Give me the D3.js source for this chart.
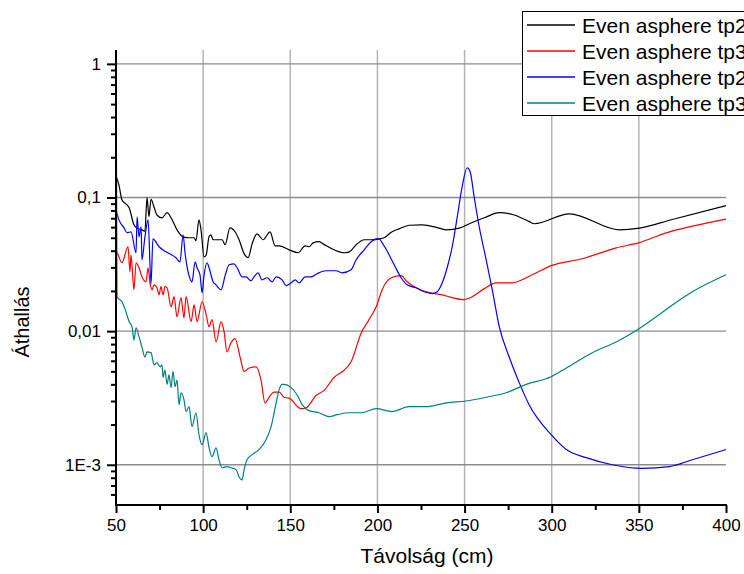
<!DOCTYPE html>
<html>
<head>
<meta charset="utf-8">
<script src="https://cdn.jsdelivr.net/npm/d3@7"></script>
<style>
body { margin: 0; background: #fff; }
text { font-family: "Liberation Sans", Arial, sans-serif; fill: #000; }
</style>
</head>
<body>
<svg width="744" height="574"></svg>
<script>
// distance (cm), crosstalk value
const tp2a = [[50,0.145],[51.7,0.124],[53.4,0.096],[56.3,0.088],[57.5,0.084],[60.3,0.0625],[62.1,0.059],[64.9,0.0573],[66.6,0.056],[67.8,0.1],[68.9,0.072],[70.1,0.097],[71.8,0.085],[73.5,0.074],[76.4,0.0705],[79.3,0.077],[81.6,0.0705],[85,0.0573],[88.5,0.0508],[91.9,0.05],[94.8,0.05],[95.9,0.0475],[97.6,0.068],[98.8,0.057],[100.5,0.036],[101.7,0.037],[103.4,0.051],[104.5,0.0526],[105.7,0.0483],[108,0.0483],[110.9,0.0483],[112.6,0.0443],[115.4,0.0593],[118.3,0.0554],[120.6,0.0483],[123.5,0.038],[125.8,0.0354],[128.1,0.045],[130.9,0.0535],[134.4,0.0483],[138.4,0.0554],[141.3,0.0435],[143.6,0.0435],[149.3,0.0406],[154.5,0.0386],[158.5,0.0435],[160.8,0.0428],[163.1,0.0458],[166.5,0.0467],[168.8,0.045],[175.1,0.0406],[180.9,0.0386],[183.8,0.0392],[188.4,0.045],[192.4,0.0483],[197,0.0483],[201,0.049],[203.9,0.05],[208.4,0.0554],[212.5,0.0583],[218.2,0.062],[225.7,0.0625],[235.4,0.059],[239.5,0.0573],[246.9,0.059],[252.7,0.0636],[261.3,0.0705],[269.9,0.077],[278.5,0.074],[287.1,0.066],[290,0.0636],[310.1,0.0755],[338.8,0.0573],[350.3,0.059],[369.2,0.0685],[400,0.087]];

const tp3a = [[50,0.0392],[50.6,0.0386],[53.4,0.0325],[56.9,0.0428],[58,0.0278],[58.6,0.0373],[60.3,0.0204],[61.5,0.0325],[63.2,0.0298],[64.9,0.0255],[67.2,0.0234],[68.4,0.0298],[69.5,0.023],[70.7,0.0204],[71.8,0.0222],[73.5,0.0211],[74.7,0.0187],[75.8,0.0215],[77,0.0187],[78.1,0.0215],[79.3,0.0211],[81.6,0.0152],[83.3,0.0181],[85,0.0128],[87.3,0.0178],[89,0.0126],[90.2,0.0181],[93.1,0.0118],[94.8,0.0157],[96.5,0.0118],[99.4,0.0166],[101.7,0.0133],[103.4,0.0108],[105.1,0.0122],[107.4,0.0083],[110.3,0.0118],[112,0.0099],[113.7,0.007],[116,0.0082],[118.3,0.0088],[121.2,0.0064],[123.5,0.005],[126.4,0.0053],[130.4,0.0054],[133.2,0.0043],[135.5,0.0029],[137.8,0.0032],[140.7,0.0035],[143.6,0.0035],[146.4,0.0032],[149.3,0.00315],[156.2,0.00263],[159.1,0.00267],[164.8,0.0033],[169.4,0.0036],[175.1,0.0045],[180.9,0.0051],[184.9,0.0059],[190.7,0.0097],[195.2,0.0122],[199.3,0.0152],[202.7,0.0204],[207.9,0.0251],[213.6,0.026],[217.1,0.0234],[222.2,0.0211],[229.7,0.0194],[237.2,0.0187],[242.9,0.0178],[249.2,0.0172],[254.4,0.0181],[261.3,0.0208],[268.2,0.023],[277.3,0.023],[288.8,0.0264],[299.7,0.0309],[317.5,0.0348],[337,0.042],[350.3,0.046],[365.7,0.0544],[380.7,0.061],[400,0.069]];

const tp2b = [[50,0.081],[51.7,0.068],[54.6,0.0593],[56.3,0.0545],[58.6,0.0554],[61.5,0.0386],[62.1,0.0717],[63.2,0.0508],[64.4,0.0604],[64.9,0.0342],[66.6,0.0508],[68.4,0.068],[70.1,0.0226],[71.2,0.0491],[74.7,0.0428],[78.7,0.0392],[84.4,0.0354],[86.7,0.033],[88.5,0.0526],[89.6,0.0386],[91.9,0.026],[93.6,0.0234],[95.4,0.033],[96.5,0.0298],[98.2,0.0264],[99.4,0.0194],[100.5,0.026],[102.2,0.0325],[103.4,0.0298],[105.7,0.0234],[107.4,0.0222],[110.3,0.0204],[112.6,0.026],[114.9,0.0314],[117.7,0.0319],[119.5,0.0298],[122.3,0.0255],[124.6,0.0255],[127.5,0.0238],[129.2,0.0255],[131.5,0.0273],[133.8,0.0242],[136.7,0.0251],[139.6,0.0234],[141.9,0.0255],[145.3,0.0242],[147.6,0.0219],[150.5,0.023],[152.8,0.0242],[155.1,0.023],[158.5,0.0255],[162,0.0255],[165.4,0.0269],[170.6,0.0283],[176.3,0.0283],[179.7,0.0273],[184.9,0.0288],[187.8,0.0342],[192.4,0.0406],[196.4,0.0467],[199.8,0.0491],[201,0.0491],[202.7,0.0458],[205,0.041],[209.6,0.0314],[213.6,0.0251],[217.1,0.0222],[222.2,0.0211],[226.8,0.0197],[231.4,0.0191],[234.3,0.0197],[237.2,0.023],[240,0.0298],[242.9,0.0428],[245.8,0.0717],[248.6,0.12],[251.5,0.167],[253.2,0.156],[255.5,0.101],[258.4,0.0604],[262.4,0.0342],[265.9,0.0204],[269.9,0.0108],[275.6,0.0064],[281.4,0.0041],[287.1,0.0028],[299.7,0.00168],[308.4,0.0013],[319.8,0.00113],[334.7,0.001],[352,0.00094],[367.5,0.00097],[380.7,0.00109],[400,0.0013]];

const tp3b = [[50,1.15],[50.6,0.0181],[53.4,0.0166],[55.7,0.014],[57.5,0.0118],[59.2,0.0108],[60.3,0.0086],[61.5,0.0106],[63.2,0.0091],[64.9,0.0076],[66.6,0.0064],[67.8,0.007],[70.1,0.0069],[71.8,0.0056],[73.5,0.0058],[75.3,0.0054],[76.4,0.0056],[77,0.0045],[78.1,0.0051],[79.3,0.004],[80.4,0.0047],[81.6,0.00378],[82.7,0.005],[83.9,0.00384],[85,0.0043],[86.2,0.00282],[87.3,0.00346],[89,0.00307],[90.2,0.0025],[91.9,0.00272],[93.6,0.00193],[95.9,0.00245],[97.6,0.00168],[99.4,0.00141],[101.7,0.00174],[103.4,0.00134],[105.1,0.00115],[107.4,0.00134],[109.1,0.00109],[110.9,0.00095],[113.7,0.00097],[116,0.00095],[118.9,0.00092],[120.6,0.00081],[122.3,0.00077],[123.5,0.00092],[125.2,0.00109],[128.1,0.00119],[132.1,0.0013],[136.1,0.00154],[139,0.00193],[141.9,0.00291],[143.6,0.00365],[145.3,0.004],[146.4,0.004],[150.5,0.00378],[153.9,0.00334],[156.8,0.00282],[160.8,0.00254],[166.5,0.00245],[172.3,0.00229],[176.9,0.00237],[183.8,0.00245],[190.7,0.00245],[199.3,0.00263],[208.4,0.0025],[218.2,0.00272],[227.9,0.00272],[239.5,0.00291],[250.9,0.003],[262.4,0.0032],[273.9,0.00346],[285.4,0.004],[299.7,0.00456],[308.4,0.0053],[323.3,0.0069],[337,0.0083],[348.5,0.0101],[360,0.0128],[369.2,0.0157],[380.7,0.0197],[400,0.0264]];

const seriesNames = ["Even asphere tp2", "Even asphere tp3", "Even asphere tp2", "Even asphere tp3"];
const seriesColors = ["#000000", "#ff0000", "#0000ff", "#008080"];
const xTicks = [50, 100, 150, 200, 250, 300, 350, 400];
const xMinor = [75, 125, 175, 225, 275, 325, 375];
const yTicks = [1, 0.1, 0.01, 0.001];
const yTickLabels = ["1", "0,1", "0,01", "1E-3"];

const svg = d3.select("svg");
const x = d3.scaleLinear().domain([50, 400]).range([116, 726]);
const y = d3.scaleLog().domain([5e-4, 1.27]).range([505, 50]);

// minor log ticks
const yMinor = [];
[1e-4, 1e-3, 1e-2, 1e-1, 1].forEach(function(p) {
  for (let k = 2; k <= 9; k++) {
    const v = p * k;
    if (v > 5e-4 && v < 1.27) yMinor.push(v);
  }
});

// grid
svg.append("g").selectAll("line").data([100, 150, 200, 250, 300, 350]).enter().append("line")
  .attr("x1", d => x(d)).attr("x2", d => x(d)).attr("y1", 50).attr("y2", 505)
  .attr("stroke", "#b4b4b4").attr("stroke-width", 1.5);
svg.append("g").selectAll("line").data(yTicks).enter().append("line")
  .attr("x1", 116).attr("x2", 726).attr("y1", d => y(d)).attr("y2", d => y(d))
  .attr("stroke", "#8c8c8c").attr("stroke-width", 1.3);

svg.append("clipPath").attr("id", "clip").append("rect")
  .attr("x", 116).attr("y", 50).attr("width", 611).attr("height", 455);

const line = d3.line()
  .x(d => x(d[0]))
  .y(d => y(d[1]))
  .curve(d3.curveMonotoneX);

const allSeries = [tp2a, tp3a, tp2b, tp3b];
svg.append("g").attr("clip-path", "url(#clip)")
  .selectAll("path").data(allSeries).enter().append("path")
  .attr("d", line)
  .attr("fill", "none")
  .attr("stroke", (d, i) => seriesColors[i])
  .attr("stroke-width", 1.2);

// axes
const yAxis = d3.axisLeft(y).tickValues(yTicks).tickSize(9).tickPadding(6)
  .tickFormat((d, i) => yTickLabels[i]);
const yAxisMinor = d3.axisLeft(y).tickValues(yMinor).tickSize(5).tickFormat("");
const xAxis = d3.axisBottom(x).tickValues(xTicks).tickSize(8).tickPadding(6)
  .tickFormat(d3.format("d"));
const xAxisMinor = d3.axisBottom(x).tickValues(xMinor).tickSize(5).tickFormat("");

function styleAxis(g) {
  g.select(".domain").remove();
  g.selectAll("line").attr("stroke", "#000").attr("stroke-width", 2);
  g.selectAll("text").attr("font-size", 17).attr("font-family", "Liberation Sans, Arial, sans-serif");
}

svg.append("g").attr("transform", "translate(116,0)").call(yAxisMinor).call(styleAxis);
svg.append("g").attr("transform", "translate(116,0)").call(yAxis).call(styleAxis);
svg.append("g").attr("transform", "translate(0,505)").call(xAxisMinor).call(styleAxis);
svg.append("g").attr("transform", "translate(0,505)").call(xAxis).call(styleAxis);

svg.append("line").attr("x1", 116).attr("x2", 116).attr("y1", 50).attr("y2", 506)
  .attr("stroke", "#000").attr("stroke-width", 2);
svg.append("line").attr("x1", 115).attr("x2", 727).attr("y1", 505).attr("y2", 505)
  .attr("stroke", "#000").attr("stroke-width", 2);

// titles
svg.append("text").attr("x", 427).attr("y", 563).attr("text-anchor", "middle")
  .attr("font-size", 21).text("Távolság (cm)");
svg.append("text").attr("transform", "translate(29,322) rotate(-90)").attr("text-anchor", "middle")
  .attr("font-size", 20).text("Áthallás");

// legend
const legend = svg.append("g");
legend.append("rect").attr("x", 522.5).attr("y", 11.5).attr("width", 260).attr("height", 104)
  .attr("fill", "#fff").attr("stroke", "#000").attr("stroke-width", 1);
const rows = legend.selectAll("g.row").data(seriesNames).enter().append("g")
  .attr("transform", (d, i) => "translate(0," + (25 + i * 26) + ")");
rows.append("line").attr("x1", 527).attr("x2", 575).attr("y1", 0).attr("y2", 0)
  .attr("stroke", (d, i) => seriesColors[i]).attr("stroke-width", 1.5);
rows.append("text").attr("x", 582).attr("y", 0).attr("dy", "0.36em")
  .attr("font-size", 21).text(d => d);
</script>
</body>
</html>
